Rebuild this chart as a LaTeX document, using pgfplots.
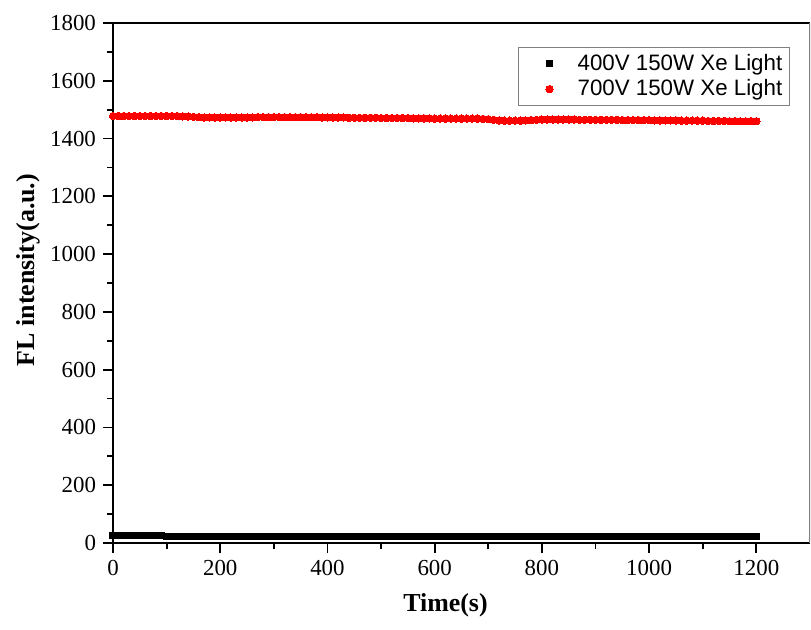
\documentclass[border=0pt]{standalone}
\usepackage{pgfplots}
\pgfplotsset{compat=1.18}
\usepackage{fontspec}
\setmainfont{Liberation Serif}
\newfontfamily\legfont{Liberation Sans}
\begin{document}
\begin{tikzpicture}
\useasboundingbox (-56.5bp,-43.5bp) rectangle (349bp,271.5bp);
\begin{axis}[
  at={(0,0)}, anchor=south west,
  scale only axis, width=348.5bp, height=260bp,
  xmin=0, xmax=1300, ymin=0, ymax=1800,
  axis lines*=left,
  axis line style={line width=1bp, -},
  xtick={0,200,...,1200}, ytick={0,200,...,1800},
  minor x tick num=1, minor y tick num=1,
  tick align=outside,
  major tick length=5bp, minor tick length=3bp,
  every tick/.style={black, line width=0.9bp},
  tick label style={font=\fontsize{11.5}{13}\selectfont},
  /pgf/number format/assume math mode=true,
  /pgf/number format/1000 sep={},
  xlabel={Time(s)}, ylabel={FL intensity(a.u.)},
  label style={font=\fontsize{13}{15}\selectfont\bfseries},
  x label style={at={(axis description cs:0.477,-0.119)}, anchor=center},
  y label style={at={(axis description cs:-0.122,0.525)}, anchor=center},
  legend style={at={(rel axis cs:0.971,0.954)}, anchor=north east,
    font=\fontsize{11.2}{12.5}\selectfont\legfont, draw=gray, line width=0.5bp,
    row sep=-1bp, inner sep=1.5bp, cells={anchor=west}},
  legend cell align=left,
  legend image code/.code={\path[draw=none,fill=none] (0bp,0bp) -- (26bp,0bp); \draw[#1] plot coordinates {(14bp,0bp)};},
]
\addplot[only marks, mark=square*, mark size=1.5bp, black, mark options={line width=0}] coordinates {
(0,25)(10,25)(20,25)(30,25)(40,25)(50,25)(60,25)(70,25)(80,25)(90,25)
(100,21)(110,21)(120,21)(130,21)(140,21)(150,21)(160,21)(170,21)(180,21)(190,21)
(200,21)(210,21)(220,21)(230,21)(240,21)(250,21)(260,21)(270,21)(280,21)(290,21)
(300,21)(310,21)(320,21)(330,21)(340,21)(350,21)(360,21)(370,21)(380,21)(390,21)
(400,21)(410,21)(420,21)(430,21)(440,21)(450,21)(460,21)(470,21)(480,21)(490,21)
(500,21)(510,21)(520,21)(530,21)(540,21)(550,21)(560,21)(570,21)(580,21)(590,21)
(600,21)(610,21)(620,21)(630,21)(640,21)(650,21)(660,21)(670,21)(680,21)(690,21)
(700,21)(710,21)(720,21)(730,21)(740,21)(750,21)(760,21)(770,21)(780,21)(790,21)
(800,21)(810,21)(820,21)(830,21)(840,21)(850,21)(860,21)(870,21)(880,21)(890,21)
(900,21)(910,21)(920,21)(930,21)(940,21)(950,21)(960,21)(970,21)(980,21)(990,21)
(1000,21)(1010,21)(1020,21)(1030,21)(1040,21)(1050,21)(1060,21)(1070,21)(1080,21)(1090,21)
(1100,21)(1110,21)(1120,21)(1130,21)(1140,21)(1150,21)(1160,21)(1170,21)(1180,21)(1190,21)
(1200,21)
};
\addlegendentry{400V 150W Xe Light}
\addplot[only marks, mark=*, mark size=1.85bp, red, mark options={line width=0}] coordinates {
(0,1478)(10,1478)(20,1478)(30,1478)(40,1478)(50,1478)(60,1478)(70,1478)(80,1478)(90,1478)
(100,1478)(110,1478)(120,1478)(130,1477)(140,1476)(150,1475)(160,1474)(170,1473)(180,1473)(190,1473)
(200,1473)(210,1473)(220,1473)(230,1473)(240,1473)(250,1473)(260,1473)(270,1474)(280,1474)(290,1474)
(300,1474)(310,1474)(320,1474)(330,1474)(340,1474)(350,1474)(360,1474)(370,1474)(380,1474)(390,1473)
(400,1473)(410,1473)(420,1473)(430,1473)(440,1472)(450,1472)(460,1472)(470,1472)(480,1472)(490,1472)
(500,1471)(510,1471)(520,1471)(530,1471)(540,1471)(550,1471)(560,1470)(570,1470)(580,1470)(590,1470)
(600,1469)(610,1469)(620,1469)(630,1469)(640,1469)(650,1469)(660,1469)(670,1469)(680,1469)(690,1468)
(700,1467)(710,1465)(720,1463)(730,1462)(740,1462)(750,1462)(760,1462)(770,1463)(780,1464)(790,1465)
(800,1466)(810,1466)(820,1466)(830,1466)(840,1466)(850,1466)(860,1466)(870,1465)(880,1465)(890,1465)
(900,1465)(910,1465)(920,1465)(930,1465)(940,1465)(950,1464)(960,1464)(970,1464)(980,1464)(990,1464)
(1000,1464)(1010,1463)(1020,1463)(1030,1463)(1040,1463)(1050,1463)(1060,1462)(1070,1462)(1080,1462)(1090,1462)
(1100,1462)(1110,1461)(1120,1461)(1130,1461)(1140,1461)(1150,1460)(1160,1460)(1170,1460)(1180,1460)(1190,1460)
(1200,1460)
};
\addlegendentry{700V 150W Xe Light}
\draw[line width=1bp] (rel axis cs:0,1) -- (rel axis cs:1,1);
\draw[gray, line width=0.6bp] (rel axis cs:1,0) -- (rel axis cs:1,1);
\end{axis}
\end{tikzpicture}
\end{document}
